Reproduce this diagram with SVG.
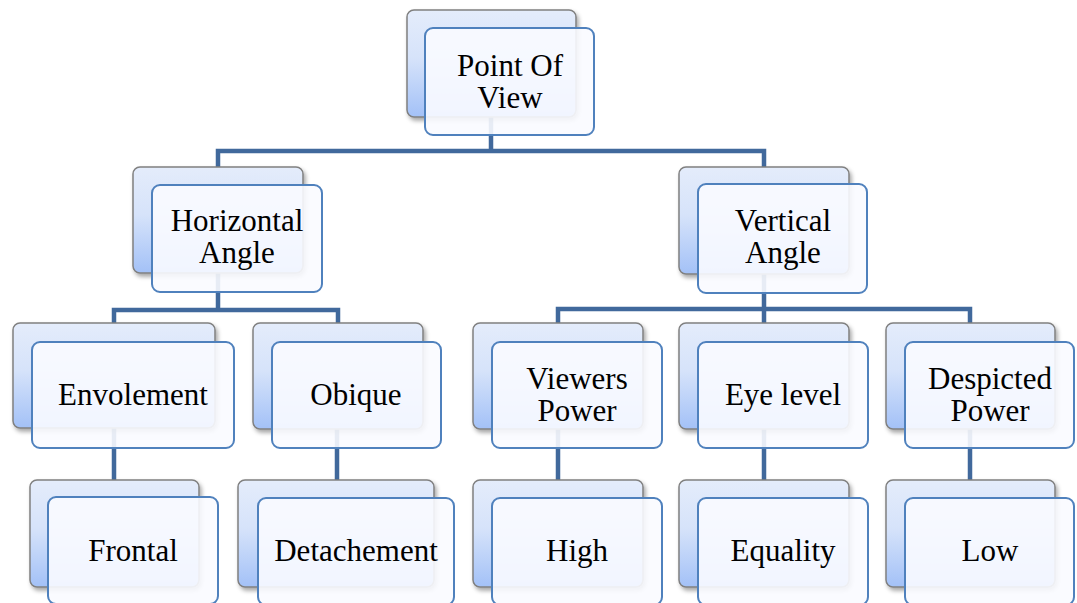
<svg xmlns="http://www.w3.org/2000/svg" width="1077" height="603" viewBox="0 0 1077 603">
<defs>
<linearGradient id="bg" x1="0" y1="0" x2="0" y2="1">
<stop offset="0" stop-color="#e4ecfb"/>
<stop offset="0.45" stop-color="#d6e3fa"/>
<stop offset="1" stop-color="#a3c1f7"/>
</linearGradient>
<filter id="sh" x="-10%" y="-10%" width="125%" height="130%">
<feDropShadow dx="2" dy="3" stdDeviation="2.2" flood-color="#000" flood-opacity="0.35"/>
</filter>
</defs>
<style>
.back{fill:url(#bg);stroke:#808080;stroke-width:1.5;filter:url(#sh)}
.front{fill:#f9fbff;fill-opacity:0.9;stroke:#4f81bd;stroke-width:2}
.t{font-family:"Liberation Serif","Times New Roman",serif;font-size:31px;fill:#000;text-anchor:middle}
.c{fill:none;stroke:#41699c;stroke-width:4.5}
</style>
<rect width="1077" height="603" fill="#fff"/>
<g id="connectors">
<path class="c" d="M491 117 V151 M218 167 V151 H764 V167"/>
<path class="c" d="M218 273 V310 M114 323 V310 H338 V323"/>
<path class="c" d="M764 274 V309 M558 323 V309 H970 V323 M764 309 V323"/>
<path class="c" d="M114 428 V480 M337 428 V480 M558 428 V480 M764 428 V480 M970 428 V480"/>
</g>
<g id="n-pov">
<rect class="back" x="407" y="10" width="169" height="107" rx="7"/>
<rect class="front" x="425" y="28" width="169" height="107" rx="8"/>
<text class="t" x="510" y="76">Point Of</text>
<text class="t" x="510" y="108">View</text>
</g>
<g id="n-horizontal">
<rect class="back" x="133" y="167" width="170" height="106" rx="7"/>
<rect class="front" x="152" y="185" width="170" height="107" rx="8"/>
<text class="t" x="237" y="231">Horizontal</text>
<text class="t" x="237" y="263">Angle</text>
</g>
<g id="n-vertical">
<rect class="back" x="679" y="167" width="170" height="107" rx="7"/>
<rect class="front" x="698" y="184" width="169" height="109" rx="8"/>
<text class="t" x="783" y="231">Vertical</text>
<text class="t" x="783" y="263">Angle</text>
</g>
<g id="n-envolement">
<rect class="back" x="13" y="323" width="202" height="105" rx="7"/>
<rect class="front" x="32" y="342" width="202" height="106" rx="8"/>
<text class="t" x="133" y="405">Envolement</text>
</g>
<g id="n-obique">
<rect class="back" x="253" y="323" width="170" height="106" rx="7"/>
<rect class="front" x="272" y="342" width="169" height="106" rx="8"/>
<text class="t" x="356" y="405">Obique</text>
</g>
<g id="n-viewers">
<rect class="back" x="473" y="323" width="170" height="106" rx="7"/>
<rect class="front" x="492" y="342" width="170" height="106" rx="8"/>
<text class="t" x="577" y="389">Viewers</text>
<text class="t" x="577" y="421">Power</text>
</g>
<g id="n-eyelevel">
<rect class="back" x="679" y="323" width="170" height="106" rx="7"/>
<rect class="front" x="698" y="342" width="170" height="106" rx="8"/>
<text class="t" x="783" y="405">Eye level</text>
</g>
<g id="n-despicted">
<rect class="back" x="886" y="323" width="169" height="106" rx="7"/>
<rect class="front" x="905" y="342" width="169" height="106" rx="8"/>
<text class="t" x="990" y="389">Despicted</text>
<text class="t" x="990" y="421">Power</text>
</g>
<g id="n-frontal">
<rect class="back" x="30" y="480" width="169" height="107" rx="7"/>
<rect class="front" x="48" y="497" width="170" height="107" rx="8"/>
<text class="t" x="133" y="561">Frontal</text>
</g>
<g id="n-detachement">
<rect class="back" x="238" y="480" width="196" height="107" rx="7"/>
<rect class="front" x="258" y="498" width="196" height="107" rx="8"/>
<text class="t" x="356" y="561">Detachement</text>
</g>
<g id="n-high">
<rect class="back" x="473" y="480" width="170" height="107" rx="7"/>
<rect class="front" x="492" y="498" width="170" height="107" rx="8"/>
<text class="t" x="577" y="561">High</text>
</g>
<g id="n-equality">
<rect class="back" x="679" y="480" width="170" height="107" rx="7"/>
<rect class="front" x="698" y="498" width="170" height="107" rx="8"/>
<text class="t" x="783" y="561">Equality</text>
</g>
<g id="n-low">
<rect class="back" x="886" y="480" width="169" height="107" rx="7"/>
<rect class="front" x="905" y="498" width="169" height="107" rx="8"/>
<text class="t" x="990" y="561">Low</text>
</g>
</svg>
